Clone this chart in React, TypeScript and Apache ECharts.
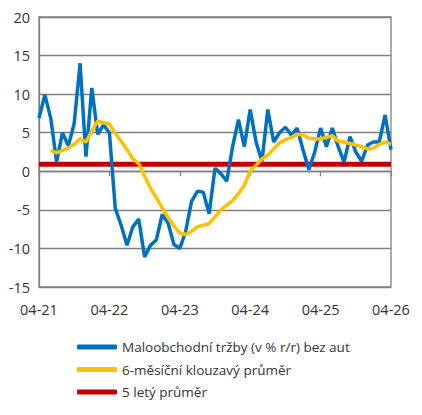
import React, { useEffect, useRef } from "react";
import * as echarts from "echarts";

const categories = [
  "04-21","05-21","06-21","07-21","08-21","09-21","10-21","11-21","12-21","01-22","02-22","03-22",
  "04-22","05-22","06-22","07-22","08-22","09-22","10-22","11-22","12-22","01-23","02-23","03-23",
  "04-23","05-23","06-23","07-23","08-23","09-23","10-23","11-23","12-23","01-24","02-24","03-24",
  "04-24","05-24","06-24","07-24","08-24","09-24","10-24","11-24","12-24","01-25","02-25","03-25",
  "04-25","05-25","06-25","07-25","08-25","09-25","10-25","11-25","12-25","01-26","02-26","03-26",
  "04-26",
];

const retailSales = [
  6.9, 9.9, 6.9, 1.2, 5.0, 3.3, 6.2, 14.0, 1.9, 10.8,
  4.8, 6.0, 5.0, -4.8, -7.0, -9.6, -7.2, -6.2, -11.1, -9.6,
  -8.9, -5.6, -6.7, -9.5, -10.0, -7.8, -3.9, -2.6, -2.7, -5.5,
  0.4, -0.3, -1.3, 3.2, 6.7, 3.2, 8.0, 3.8, 1.3, 8.0,
  3.8, 5.0, 5.7, 4.7, 5.6, 2.8, 0.2, 2.5, 5.6, 3.2,
  5.6, 3.2, 1.2, 4.5, 2.5, 1.3, 3.4, 3.8, 3.8, 7.3,
  2.8,
];

const movingAvg6 = [
  null, null, 2.7, 2.4, 2.7, 3.0, 3.5, 4.2, 3.8, 5.2,
  6.5, 6.3, 6.1, 4.9, 3.9, 2.8, 1.6, 1.0, -0.6, -2.2,
  -3.4, -4.7, -6.0, -7.1, -8.0, -8.2, -7.8, -7.2, -7.0, -6.8,
  -5.9, -5.0, -4.4, -3.8, -2.9, -1.8, 0.0, 0.8, 1.6, 2.1,
  2.9, 3.7, 4.1, 4.4, 4.8, 4.7, 4.3, 4.2, 4.2, 4.4,
  4.6, 3.9, 3.8, 3.6, 3.4, 3.2, 2.9, 3.0, 3.5, 3.8,
  3.5,
];

const fiveYearAvgValue = 0.9;
const fiveYearAvg = categories.map(() => fiveYearAvgValue);

const seriesNames = [
  "Maloobchodní tržby (v % r/r) bez aut",
  "6-měsíční klouzavý průměr",
  "5 letý průměr",
];

export default function App() {
  const ref = useRef<HTMLDivElement>(null);
  useEffect(() => {
    if (!ref.current) return;
    const chart = echarts.init(ref.current, null, { renderer: "svg" });
    const font = "Open Sans";
    chart.setOption({
      animation: false,
      textStyle: { fontFamily: font },
      grid: {
        left: 39,
        right: 31,
        top: 17,
        bottom: 128,
        show: true,
        borderColor: "#808080",
        borderWidth: 1.3,
      },
      legend: {
        orient: "vertical",
        left: 72,
        top: 335,
        data: seriesNames,
        itemWidth: 40,
        itemHeight: 5,
        itemGap: 8.5,
        icon: "roundRect",
        textStyle: { fontSize: 13.5, color: "#333333", fontFamily: font },
      },
      xAxis: {
        type: "category",
        data: categories,
        boundaryGap: false,
        axisLine: { show: true, lineStyle: { color: "#808080", width: 1.3 } },
        axisTick: { show: true, interval: 11, length: 5, lineStyle: { color: "#808080", width: 1.3 } },
        axisLabel: { interval: 11, fontSize: 14.5, color: "#333333", margin: 15, fontFamily: font },
        splitLine: { show: false },
      },
      yAxis: {
        type: "value",
        min: -15,
        max: 20,
        interval: 5,
        axisLine: { show: true, lineStyle: { color: "#808080", width: 1.3 } },
        axisTick: { show: false },
        axisLabel: { fontSize: 14.5, color: "#333333", margin: 9, fontFamily: font },
        splitLine: { show: true, lineStyle: { color: "#808080", width: 1.3 } },
      },
      series: [
        {
          name: seriesNames[2],
          type: "line",
          data: fiveYearAvg,
          showSymbol: false,
          symbol: "none",
          lineStyle: { color: "#C00000", width: 5 },
          itemStyle: { color: "#C00000" },
          z: 1,
        },
        {
          name: seriesNames[0],
          type: "line",
          data: retailSales,
          showSymbol: false,
          symbol: "none",
          lineStyle: { color: "#0070C0", width: 3.5 },
          itemStyle: { color: "#0070C0" },
          z: 2,
        },
        {
          name: seriesNames[1],
          type: "line",
          data: movingAvg6,
          showSymbol: false,
          symbol: "none",
          connectNulls: false,
          lineStyle: { color: "#FFC000", width: 3.5 },
          itemStyle: { color: "#FFC000" },
          z: 3,
        },
      ],
    });
    return () => chart.dispose();
  }, []);
  return <div ref={ref} style={{ width: 422, height: 415, position: "absolute", left: 0, top: 0 }} />;
}
